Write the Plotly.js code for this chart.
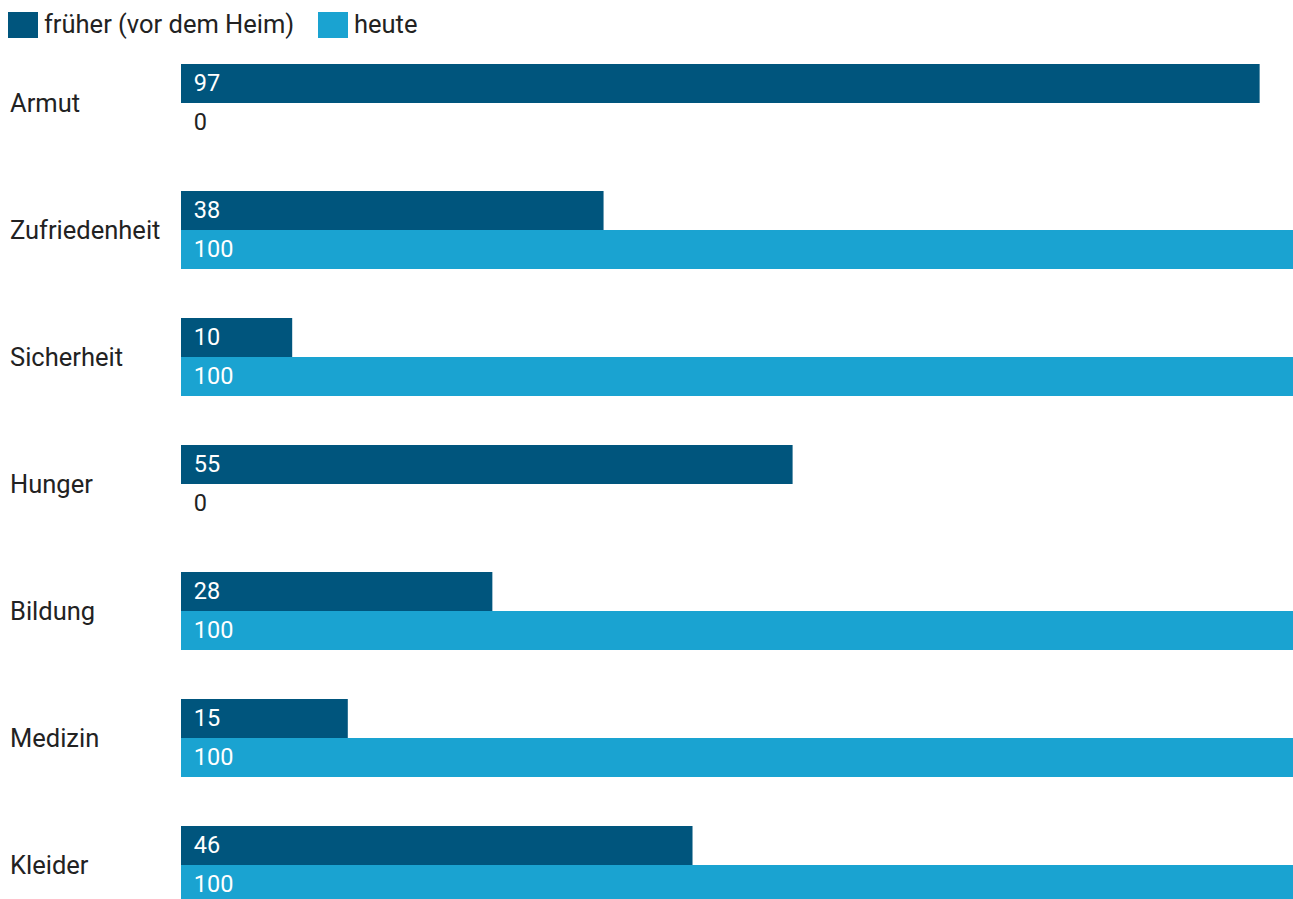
<!DOCTYPE html>
<html>
<head>
<meta charset="utf-8">
<script src="https://cdn.plot.ly/plotly-3.0.1.min.js"></script>
<style>
html,body{margin:0;padding:0;background:#fff;}
#chart{width:1293px;height:899px;}
</style>
</head>
<body>
<div id="chart"></div>
<script>
var categories = ["Armut", "Zufriedenheit", "Sicherheit", "Hunger", "Bildung", "Medizin", "Kleider"];
var seriesNames = ["früher (vor dem Heim)", "heute"];
var frueher = [97, 38, 10, 55, 28, 15, 46];
var heute = [0, 100, 100, 0, 100, 100, 100];
var colors = ["#00557d", "#1aa3d1"];

var FONT = "Roboto, sans-serif";
var FS_LABEL = 25.5;
var FS_VALUE = 23.5;
var pad = "\u00a0\u2006";

function mkTrace(vals, name, color) {
  return {
    type: "bar",
    orientation: "h",
    y: categories,
    x: vals,
    name: name,
    marker: {color: color, line: {width: 0}},
    text: vals.map(function (v) { return pad + v; }),
    textposition: vals.map(function (v) { return v > 0 ? "inside" : "outside"; }),
    insidetextanchor: "start",
    insidetextfont: {family: FONT, size: FS_VALUE, color: "#ffffff"},
    outsidetextfont: {family: FONT, size: FS_VALUE, color: "#222222"},
    textangle: 0,
    cliponaxis: false,
    hoverinfo: "none",
    showlegend: false
  };
}

var data = [
  mkTrace(frueher, seriesNames[0], colors[0]),
  mkTrace(heute, seriesNames[1], colors[1])
];

var annotations = categories.map(function (c) {
  return {
    xref: "paper", yref: "y", x: 0, y: c,
    xshift: -173, xanchor: "left", yanchor: "middle",
    text: c, showarrow: false,
    font: {family: FONT, size: FS_LABEL, color: "#222222"}
  };
});

// legend (drawn with shapes + text)
var legendX = [8, 318];
var shapes = [];
seriesNames.forEach(function (n, i) {
  shapes.push({
    type: "rect", xref: "paper", yref: "paper",
    xsizemode: "pixel", ysizemode: "pixel",
    xanchor: 0, yanchor: 1,
    x0: legendX[i] - 181, x1: legendX[i] - 181 + 30,
    y0: 40 - 12, y1: 40 - 38,
    fillcolor: colors[i], line: {width: 0}
  });
  annotations.push({
    xref: "paper", yref: "paper", x: 0, y: 1,
    xshift: legendX[i] - 181 + 34, yshift: 40 - 24,
    xanchor: "left", yanchor: "middle",
    text: n, showarrow: false,
    font: {family: FONT, size: FS_LABEL, color: "#222222"}
  });
});

var layout = {
  width: 1293, height: 899,
  margin: {l: 181, r: 0, t: 40, b: 0, pad: 0},
  paper_bgcolor: "#ffffff", plot_bgcolor: "#ffffff",
  barmode: "group",
  bargap: 0.386,
  bargroupgap: 0,
  showlegend: false,
  xaxis: {range: [0, 100], visible: false, fixedrange: true},
  yaxis: {
    type: "category",
    range: [6.268, -0.496],
    showticklabels: false, showgrid: false, zeroline: false, showline: false,
    ticks: "", fixedrange: true
  },
  annotations: annotations,
  shapes: shapes,
  font: {family: FONT, size: FS_LABEL, color: "#222222"}
};

Plotly.newPlot("chart", data, layout, {displayModeBar: false, staticPlot: true});
</script>
</body>
</html>
